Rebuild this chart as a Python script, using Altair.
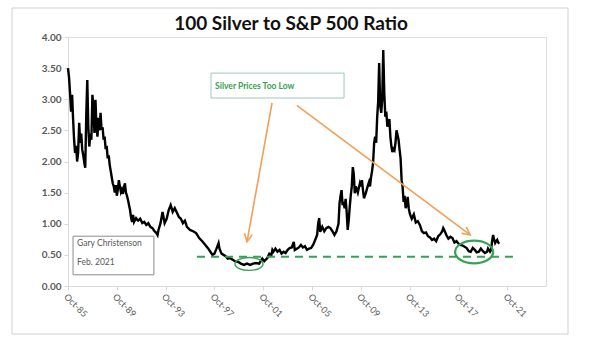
import altair as alt
import pandas as pd

# ---- series: 100 oz silver / S&P 500 ratio ----
months = [
 "1985-10","1985-11","1985-12","1986-01","1986-02","1986-03","1986-04","1986-05","1986-06","1986-07",
 "1986-08","1986-09","1986-10","1986-11","1986-12","1987-01","1987-02","1987-03","1987-04","1987-05",
 "1987-06","1987-07","1987-08","1987-09","1987-10","1987-11","1987-12","1988-01","1988-02","1988-03",
 "1988-04","1988-05","1988-06","1988-07","1988-08","1988-09","1988-10","1988-11","1988-12","1989-01",
 "1989-02","1989-03","1989-04","1989-05","1989-06","1989-07","1989-08","1989-09","1989-10","1989-11",
 "1989-12","1990-01","1990-02","1990-03","1990-04","1990-05","1990-06","1990-07","1990-08","1990-09",
 "1990-10","1990-11","1990-12","1991-01","1991-02","1991-03","1991-05","1991-07","1991-09","1991-11",
 "1992-01","1992-03","1992-05","1992-07","1992-09","1992-11","1993-01","1993-02","1993-03","1993-05",
 "1993-07","1993-08","1993-09","1993-11","1994-01","1994-03","1994-05","1994-07","1994-09","1994-11",
 "1995-01","1995-03","1995-05","1995-07","1995-10","1996-01","1996-04","1996-07","1996-10","1997-01",
 "1997-04","1997-06","1997-08","1997-10","1997-12","1998-02","1998-03","1998-05","1998-07","1998-09",
 "1998-11","1999-01","1999-04","1999-06","1999-09","1999-12","2000-03","2000-06","2000-09","2000-12",
 "2001-03","2001-06","2001-09","2001-11","2002-02","2002-04","2002-06","2002-07","2002-08","2002-10",
 "2002-12","2003-02","2003-04","2003-06","2003-08","2003-10","2003-12","2004-02","2004-04","2004-05",
 "2004-07","2004-09","2004-11","2005-01","2005-03","2005-05","2005-07","2005-09","2005-11","2006-01",
 "2006-03","2006-04","2006-05","2006-06","2006-08","2006-10","2006-12","2007-02","2007-04","2007-06",
 "2007-08","2007-10","2007-12","2008-01","2008-02","2008-03","2008-04","2008-05","2008-06","2008-07",
 "2008-08","2008-09","2008-10","2008-11","2008-12","2009-01","2009-02","2009-03","2009-04","2009-05",
 "2009-06","2009-07","2009-08","2009-09","2009-10","2009-11","2009-12","2010-01","2010-03","2010-05",
 "2010-06","2010-07","2010-08","2010-09","2010-10","2010-11","2010-12","2011-01","2011-02","2011-03",
 "2011-04","2011-05","2011-06","2011-07","2011-08","2011-09","2011-10","2011-11","2011-12","2012-01",
 "2012-02","2012-03","2012-04","2012-05","2012-06","2012-07","2012-08","2012-09","2012-10","2012-11",
 "2012-12","2013-01","2013-02","2013-03","2013-04","2013-05","2013-06","2013-07","2013-08","2013-09",
 "2013-10","2013-11","2013-12","2014-02","2014-04","2014-06","2014-08","2014-10","2014-12","2015-02",
 "2015-04","2015-06","2015-08","2015-10","2015-12","2016-02","2016-04","2016-06","2016-07","2016-08",
 "2016-10","2016-12","2017-02","2017-04","2017-06","2017-08","2017-10","2017-12","2018-02","2018-04",
 "2018-06","2018-08","2018-10","2018-12","2019-02","2019-04","2019-06","2019-08","2019-10","2019-12",
 "2020-02","2020-03","2020-05","2020-06","2020-07","2020-08","2020-09","2020-10","2020-11","2020-12",
 "2021-01","2021-02",
]
ratio = [
 3.50,3.35,3.10,2.80,3.07,2.70,2.35,2.14,2.25,2.00,
 2.15,2.62,2.30,2.45,2.19,2.10,1.98,1.90,2.75,3.31,
 2.55,2.24,2.45,2.35,3.07,2.90,2.46,2.99,2.55,2.40,
 2.70,2.50,2.78,2.51,2.55,2.35,2.40,2.20,2.25,2.05,
 2.10,1.95,1.85,1.75,1.65,1.60,1.50,1.62,1.45,1.55,
 1.70,1.60,1.51,1.55,1.48,1.58,1.65,1.50,1.45,1.38,
 1.30,1.22,1.10,1.03,1.14,1.03,1.09,1.05,1.08,1.01,
 1.03,0.98,1.01,0.95,0.93,0.88,0.85,0.82,0.90,1.01,
 1.19,1.10,1.01,1.08,1.22,1.30,1.19,1.25,1.18,1.11,
 1.08,1.01,1.05,0.95,0.90,0.88,0.85,0.77,0.72,0.66,
 0.60,0.55,0.50,0.52,0.60,0.69,0.60,0.52,0.50,0.48,
 0.44,0.45,0.42,0.40,0.39,0.36,0.34,0.36,0.34,0.36,
 0.37,0.36,0.44,0.40,0.45,0.52,0.50,0.58,0.55,0.60,
 0.55,0.58,0.52,0.55,0.53,0.58,0.61,0.62,0.71,0.58,
 0.60,0.62,0.66,0.62,0.64,0.58,0.60,0.61,0.66,0.74,
 0.82,1.00,1.09,0.87,0.95,0.88,0.93,0.95,0.93,0.88,
 0.82,0.88,1.00,1.33,1.45,1.54,1.30,1.35,1.25,1.40,
 1.19,0.90,1.05,1.27,1.45,1.60,1.91,1.80,1.49,1.60,
 1.55,1.50,1.58,1.65,1.60,1.70,1.55,1.41,1.50,1.62,
 1.67,1.60,1.75,1.85,1.98,2.30,2.40,2.30,2.72,2.95,
 3.58,2.90,2.78,3.00,3.79,3.10,2.72,2.80,2.56,2.62,
 2.68,2.40,2.24,2.15,2.20,2.18,2.30,2.50,2.43,2.35,
 2.19,2.05,1.70,1.60,1.35,1.45,1.25,1.30,1.43,1.25,
 1.17,1.12,1.08,1.15,1.02,1.04,0.98,0.88,0.85,0.86,
 0.80,0.78,0.74,0.76,0.72,0.80,0.83,0.88,0.93,0.90,
 0.82,0.76,0.79,0.77,0.70,0.72,0.68,0.66,0.65,0.63,
 0.61,0.56,0.55,0.61,0.58,0.54,0.55,0.60,0.56,0.53,
 0.55,0.60,0.55,0.58,0.72,0.82,0.74,0.69,0.72,0.74,
 0.70,0.68,
]

tick_years = [1985, 1989, 1993, 1997, 2001, 2005, 2009, 2013, 2017, 2021]
y_ticks = [0.0, 0.5, 1.0, 1.5, 2.0, 2.5, 3.0, 3.5, 4.0]

chart_title = "100 Silver to S&P 500 Ratio"

# annotation anchors (data coordinates)
support_level = 0.47
support_start, support_end = "1996-04-25", "2022-07-15"
ellipse_dates = ["2000-08-01", "2019-01-10"]
ellipse_vals = [0.354, 0.547]
arrow_start_dates = ["2002-06-20", "2004-07-01"]
arrow_start_vals = [2.94, 2.90]
arrow_end_dates = ["2000-06-01", "2018-09-15"]
arrow_end_vals = [0.71, 0.82]
arrow_angles = [190, 127]

FONT = "Lato"
GREEN = "#35a153"
ORANGE = "#f0a057"

df = pd.DataFrame({"date": [m + "-01" for m in months], "ratio": ratio})

x_scale = alt.Scale(
    type="utc",
    domain=[alt.DateTime(year=1985, month=10, date=1, utc=True),
            alt.DateTime(year=2024, month=12, date=1, utc=True)],
)
y_scale = alt.Scale(domain=[0, 4], nice=False)

x_axis = alt.Axis(
    values=[alt.DateTime(year=y, month=10, date=1, utc=True) for y in tick_years],
    labelExpr="utcFormat(datum.value, '%b-%y')", labelAngle=45, labelAlign="left",
    labelBaseline="top", labelFont=FONT, labelFontSize=9, labelColor="#595959",
    domainColor="#d9d9d9", tickColor="#d9d9d9", tickSize=4, labelPadding=2,
    title=None, grid=False, labelOverlap=False,
)
y_axis = alt.Axis(
    values=y_ticks, labelExpr="format(datum.value, '.2f')", labelFont=FONT, labelFontSize=10,
    labelFontWeight="bold", labelColor="#595959", domainColor="#d9d9d9",
    tickColor="#d9d9d9", tickSize=4, title=None, grid=False, labelPadding=3,
    labelOverlap=False,
)


def X(field):
    return alt.X(field, type="temporal", scale=x_scale, axis=x_axis)


def Y(field):
    return alt.Y(field, type="quantitative", scale=y_scale, axis=y_axis)


line = alt.Chart(df).mark_line(color="black", strokeWidth=2.4).encode(
    x=X("date"), y=Y("ratio"),
)

# outer frame (decorative)
frame = alt.Chart(pd.DataFrame({"a": [0]})).mark_rect(
    fill=None, stroke="#d0d0d0", strokeWidth=1
).encode(x=alt.value(-56), x2=alt.value(500), y=alt.value(-29), y2=alt.value(297))

title = alt.Chart(pd.DataFrame({"t": [chart_title]})).mark_text(
    font=FONT, fontSize=19, fontWeight="bold", color="#111111",
    align="center", baseline="alphabetic"
).encode(x=alt.value(223), y=alt.value(-7), text="t:N")

sup_df = pd.DataFrame({"d1": [support_start], "d2": [support_end], "v": [support_level]})
support = alt.Chart(sup_df).mark_rule(color=GREEN, strokeWidth=2, strokeDash=[8, 6]).encode(
    x=X("d1"), x2="d2:T", y=Y("v")
)

ell_df = pd.DataFrame({"d": ellipse_dates, "v": ellipse_vals,
                       "sz": [784, 1444], "sw": [1.4, 2.2]})
ellipses = alt.Chart(ell_df).mark_point(filled=False, color=GREEN, opacity=1).encode(
    x=X("d"), y=Y("v"),
    size=alt.Size("sz:Q", scale=None, legend=None),
    strokeWidth=alt.StrokeWidth("sw:Q", scale=None, legend=None),
)
ell2 = ellipses.transform_filter("datum.sz > 1000").encode(
    shape=alt.ShapeValue("M-1,0A1,0.6,0,1,1,1,0A1,0.6,0,1,1,-1,0Z"))
ell1 = ellipses.transform_filter("datum.sz < 1000").encode(
    shape=alt.ShapeValue("M-1,0A1,0.46,0,1,1,1,0A1,0.46,0,1,1,-1,0Z"))

arr_df = pd.DataFrame({"d1": arrow_start_dates, "v1": arrow_start_vals,
                       "d2": arrow_end_dates, "v2": arrow_end_vals, "ang": arrow_angles})
arrows = alt.Chart(arr_df).mark_rule(color=ORANGE, strokeWidth=1.6).encode(
    x=X("d1"), y=Y("v1"), x2="d2:T", y2="v2:Q"
)
heads = alt.Chart(arr_df).mark_point(filled=False, color=ORANGE, strokeWidth=1.6, opacity=1, size=256).encode(
    x=X("d2"), y=Y("v2"),
    angle=alt.Angle("ang:Q", scale=None),
    shape=alt.ShapeValue("M-0.5,1L0,0L0.5,1"),
)

box_df = pd.DataFrame({"d1": ["1997-06-20"], "d2": ["2008-05-15"], "v1": [3.42], "v2": [3.02],
                       "td": ["1997-10-20"], "tv": [3.22], "t": ["Silver Prices Too Low"]})
note_box = alt.Chart(box_df).mark_rect(fill="white", stroke="#9cc8c0", strokeWidth=1).encode(
    x=X("d1"), x2="d2:T", y=Y("v1"), y2="v2:Q"
)
note_text = alt.Chart(box_df).mark_text(
    align="left", baseline="middle", font=FONT, fontSize=8.5, fontWeight="bold", color=GREEN
).encode(x=X("td"), y=Y("tv"), text="t:N")

gary_df = pd.DataFrame({"d1": ["1986-03-01"], "d2": ["1992-10-15"], "v1": [0.80], "v2": [0.18]})
gary_box = alt.Chart(gary_df).mark_rect(fill="white", stroke="#8c8c8c", strokeWidth=1).encode(
    x=X("d1"), x2="d2:T", y=Y("v1"), y2="v2:Q"
)
gary_txt_df = pd.DataFrame({"d": ["1986-07-01", "1986-07-01"], "v": [0.69, 0.39],
                            "t": ["Gary Christenson", "Feb. 2021"]})
gary_text = alt.Chart(gary_txt_df).mark_text(
    align="left", baseline="middle", font=FONT, fontSize=8.5, color="#595959"
).encode(x=X("d"), y=Y("v"), text="t:N")

chart = alt.layer(
    line, frame, title, support, ell1, ell2, arrows, heads, note_box, note_text, gary_box, gary_text
).properties(
    width=478, height=249,
    padding={"left": 68, "top": 37, "right": 53, "bottom": 65},
    autosize=alt.AutoSizeParams(type="none"),
).configure_view(stroke=None).configure(background="white")

chart.save("out.html", embed_options={"renderer": "svg", "actions": False})
